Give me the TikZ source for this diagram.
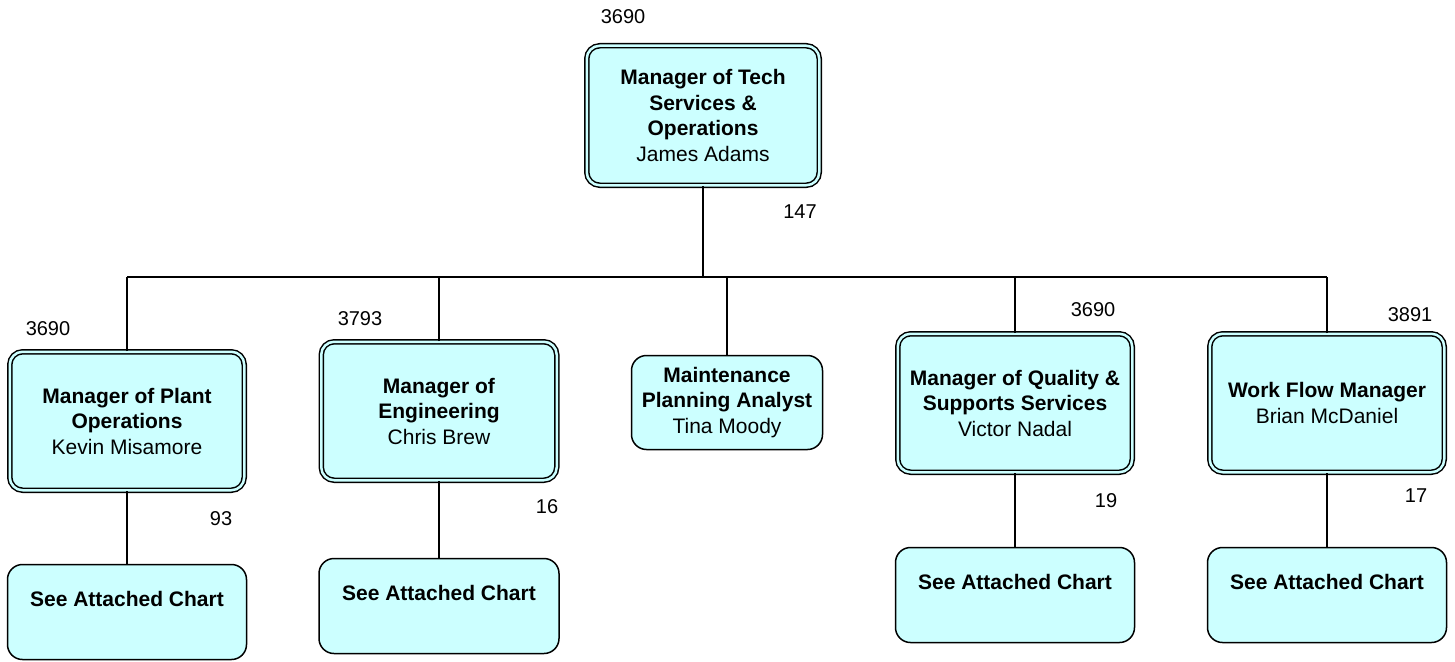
\documentclass[tikz,border=0pt]{standalone}
\usepackage{fontspec}
\setmainfont{Liberation Sans}
\definecolor{boxfill}{HTML}{CCFFFF}
\begin{document}
\begin{tikzpicture}[x=1pt,y=-1pt,
  txt/.style={font=\fontsize{21}{25.5}\selectfont},
  dbox/.style={rectangle, draw=black, fill=boxfill, line width=1.5pt,
    double=boxfill, double distance=2.5pt, rounded corners=13pt,
    inner sep=0pt, align=center, txt},
  sbox/.style={rectangle, draw=black, fill=boxfill, line width=1.5pt,
    rounded corners=15pt, inner sep=0pt, align=center, txt},
  num/.style={inner sep=0pt, font=\fontsize{20}{24}\selectfont},
  conn/.style={draw=black, line width=1.6pt}]
\useasboundingbox (0,0) rectangle (1455,661);

% boxes
\node[dbox, minimum width=232.5pt, minimum height=139.5pt] (top) at (703,115.5)
  {\textbf{Manager of Tech}\\\textbf{Services \&}\\\textbf{Operations}\\James Adams};
\node[dbox, minimum width=234.5pt, minimum height=138.5pt] (m1) at (127,421)
  {\textbf{Manager of Plant}\\\textbf{Operations}\\Kevin Misamore};
\node[dbox, minimum width=235.5pt, minimum height=138.5pt] (m2) at (439,411)
  {\textbf{Manager of}\\\textbf{Engineering}\\Chris Brew};
\node[sbox, minimum width=191pt, minimum height=94pt] (ma) at (727,402.5)
  {\textbf{Maintenance}\\\textbf{Planning Analyst}\\Tina Moody};
\node[dbox, minimum width=234.5pt, minimum height=138.5pt] (m4) at (1015,403)
  {\textbf{Manager of Quality \&}\\\textbf{Supports Services}\\Victor Nadal};
\node[dbox, minimum width=234.5pt, minimum height=138.5pt] (m5) at (1327,403)
  {\textbf{Work Flow Manager}\\Brian McDaniel};

\node[sbox, minimum width=239pt, minimum height=95pt] (b1) at (127,612)
  {\textbf{See Attached Chart}\\\mbox{}};
\node[sbox, minimum width=240pt, minimum height=95pt] (b2) at (439,606)
  {\textbf{See Attached Chart}\\\mbox{}};
\node[sbox, minimum width=239pt, minimum height=95pt] (b4) at (1015,595)
  {\textbf{See Attached Chart}\\\mbox{}};
\node[sbox, minimum width=239pt, minimum height=95pt] (b5) at (1327,595)
  {\textbf{See Attached Chart}\\\mbox{}};

% connectors
\coordinate (barL) at (127,277);
\coordinate (barR) at (1327,277);
\draw[conn] (barL) -- (barR);
\draw[conn] (top.south) -- (top.south |- barL);
\draw[conn] (m1.north) -- (m1.north |- barL);
\draw[conn] (m2.north) -- (m2.north |- barL);
\draw[conn] (ma.north) -- (ma.north |- barL);
\draw[conn] (m4.north) -- (m4.north |- barL);
\draw[conn] (m5.north) -- (m5.north |- barL);
\draw[conn] (m1.south) -- (b1.north);
\draw[conn] (m2.south) -- (b2.north);
\draw[conn] (m4.south) -- (b4.north);
\draw[conn] (m5.south) -- (b5.north);

% numbers
\node[num] (n0) at (623,17) {3690};
\node[num] (n0b) at (800,212) {147};
\node[num] (n1) at (48,329) {3690};
\node[num] (n1b) at (221,519) {93};
\node[num] (n2) at (360,319) {3793};
\node[num] (n2b) at (547,507) {16};
\node[num] (n4) at (1093,310) {3690};
\node[num] (n4b) at (1106,501) {19};
\node[num] (n5) at (1410,315) {3891};
\node[num] (n5b) at (1416,496) {17};
\end{tikzpicture}
\end{document}
